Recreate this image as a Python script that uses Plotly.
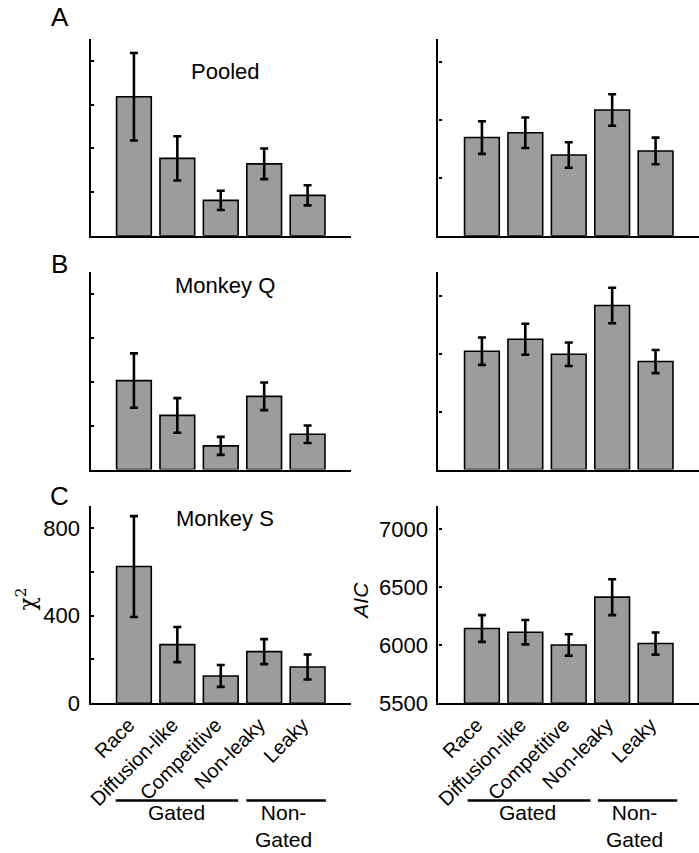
import plotly.graph_objects as go

# ---------------- data ----------------
models = ["Race", "Diffusion-like", "Competitive", "Non-leaky", "Leaky"]
group_names = ["Gated", "Non-<br>Gated"]
panel_letters = ["A", "B", "C"]
panel_titles = ["Pooled", "Monkey Q", "Monkey S"]

pooled_chi2 = [636, 354, 162, 329, 185]
pooled_chi2_err = [200, 101, 44, 70, 46]
pooled_aic = [6349, 6390, 6198, 6587, 6233]
pooled_aic_err = [141, 132, 110, 136, 115]

q_chi2 = [406, 247, 108, 334, 161]
q_chi2_err = [124, 79, 41, 63, 40]
q_aic = [6520, 6623, 6494, 6914, 6431]
q_aic_err = [118, 134, 101, 153, 100]

s_chi2 = [624, 268, 125, 236, 166]
s_chi2_err = [230, 80, 50, 57, 57]
s_aic = [6145, 6113, 6003, 6415, 6015]
s_aic_err = [115, 105, 92, 155, 95]

chi2_major = [0, 400, 800]
chi2_minor = [200, 600]
aic_major = [5500, 6000, 6500, 7000]

# ---------------- figure ----------------
W, H = 699, 853          # reference frame (layout positions are given in it)
FIG_H = 867              # rendered height (screenshot is fitted to 853)
FONT = "Liberation Sans, Arial, Helvetica, sans-serif"
BAR_COLOR = "#9c9c9c"
AIC_BASE = 5500

rows = [
    (pooled_chi2, pooled_chi2_err, pooled_aic, pooled_aic_err),
    (q_chi2, q_chi2_err, q_aic, q_aic_err),
    (s_chi2, s_chi2_err, s_aic, s_aic_err),
]

xpos = list(range(len(models)))

row_px = [(39, 235.5), (272, 469), (505.5, 702.5)]
left_px = (87, 349)
right_px = (437, 699)


def px_x(a, b):
    return [a / W, b / W]


def px_y(top, bottom):
    return [1 - bottom / H, 1 - top / H]


fig = go.Figure()
layout = dict(
    width=W, height=FIG_H, autosize=False,
    margin=dict(l=0, r=0, t=0, b=0),
    paper_bgcolor="white", plot_bgcolor="white",
    showlegend=False,
    font=dict(family=FONT, color="black", size=22),
)

annotations = []
shapes = []

for r, (chi, chi_e, aic, aic_e) in enumerate(rows):
    for c, (vals, errs) in enumerate([(chi, chi_e), (aic, aic_e)]):
        idx = r * 2 + c + 1
        xa = "x" if idx == 1 else f"x{idx}"
        ya = "y" if idx == 1 else f"y{idx}"
        base = 0 if c == 0 else AIC_BASE
        fig.add_trace(go.Bar(
            x=xpos, y=[v - base for v in vals], base=base, width=0.8,
            marker=dict(color=BAR_COLOR, line=dict(color="black", width=1.6)),
            error_y=dict(type="data", array=errs, visible=True,
                         color="black", thickness=2.6, width=4),
            xaxis=xa, yaxis=ya,
        ))
        xkey = "xaxis" if idx == 1 else f"xaxis{idx}"
        ykey = "yaxis" if idx == 1 else f"yaxis{idx}"
        hpx = left_px if c == 0 else right_px
        top, bottom = row_px[r]
        last_row = (r == 2)
        layout[xkey] = dict(
            domain=px_x(*hpx), anchor=ya, range=[-1, 5],
            tickmode="array", tickvals=xpos, ticktext=models,
            showticklabels=last_row, tickangle=-45,
            tickfont=dict(size=20, family=FONT),
            ticklabelshift=-5,
            ticks="", showline=True, linecolor="black", linewidth=2.2,
            showgrid=False, zeroline=False, fixedrange=True,
        )
        if c == 0:
            yr = [0, 900]
            tv = chi2_major
            minor = dict(tickvals=chi2_minor, ticks="inside", ticklen=3,
                         tickwidth=1.5, tickcolor="black", showgrid=False)
        else:
            yr = [5500, 7200]
            tv = aic_major
            minor = None
        ydict = dict(
            domain=px_y(top, bottom), anchor=xa, range=yr,
            tickmode="array", tickvals=tv, ticktext=[str(t) for t in tv],
            showticklabels=last_row, ticks="inside", ticklen=3,
            tickwidth=1.5, tickcolor="black",
            tickfont=dict(size=22, family=FONT),
            ticklabelstandoff=4,
            showline=True, linecolor="black", linewidth=2.2,
            showgrid=False, zeroline=False, fixedrange=True,
        )
        if minor:
            ydict["minor"] = minor
        layout[ykey] = ydict

    letter_y = [17, 263.5, 495][r]
    annotations.append(dict(
        text=panel_letters[r], x=56 / W, y=1 - letter_y / H,
        xref="paper", yref="paper", xanchor="center", yanchor="middle",
        showarrow=False, font=dict(size=26, family=FONT),
    ))
    title_y = [71, 285, 518][r]
    annotations.append(dict(
        text=panel_titles[r], x=222.5 / W, y=1 - title_y / H,
        xref="paper", yref="paper", xanchor="center", yanchor="middle",
        showarrow=False, font=dict(size=22, family=FONT),
    ))

annotations.append(dict(
    text="χ<sup>2</sup>", x=22 / W, y=1 - 598 / H, xref="paper", yref="paper",
    textangle=-90, showarrow=False, xanchor="center", yanchor="middle",
    font=dict(size=22, family="DejaVu Serif, serif"),
))
annotations.append(dict(
    text="<i>AIC</i>", x=359 / W, y=1 - 600 / H, xref="paper", yref="paper",
    textangle=-90, showarrow=False, xanchor="center", yanchor="middle",
    font=dict(size=21, family=FONT),
))

line_y = 1 - 799.5 / H
text_y = 1 - 799 / H
brackets = {
    "x5": [(-0.42, 2.40, 0.97), (2.59, 4.42, 3.44)],
    "x6": [(-0.33, 2.50, 1.06), (2.67, 4.50, 3.52)],
}
for xref, spans in brackets.items():
    for (x0, x1, xt), name in zip(spans, group_names):
        shapes.append(dict(type="line", xref=xref, yref="paper",
                           x0=x0, x1=x1, y0=line_y, y1=line_y,
                           line=dict(color="black", width=2.6)))
        annotations.append(dict(
            text=name, x=xt, y=text_y, xref=xref, yref="paper",
            xanchor="center", yanchor="top", showarrow=False,
            borderpad=0,
            font=dict(size=21, family=FONT),
        ))

layout["annotations"] = annotations
layout["shapes"] = shapes
fig.update_layout(**layout)

post = (
    "var s=document.documentElement.style;s.margin='0';s.padding='0';"
    "var b=document.body.style;b.margin='0';b.padding='0';"
)
fig.write_html("out.html", config={"displayModeBar": False}, post_script=post)
